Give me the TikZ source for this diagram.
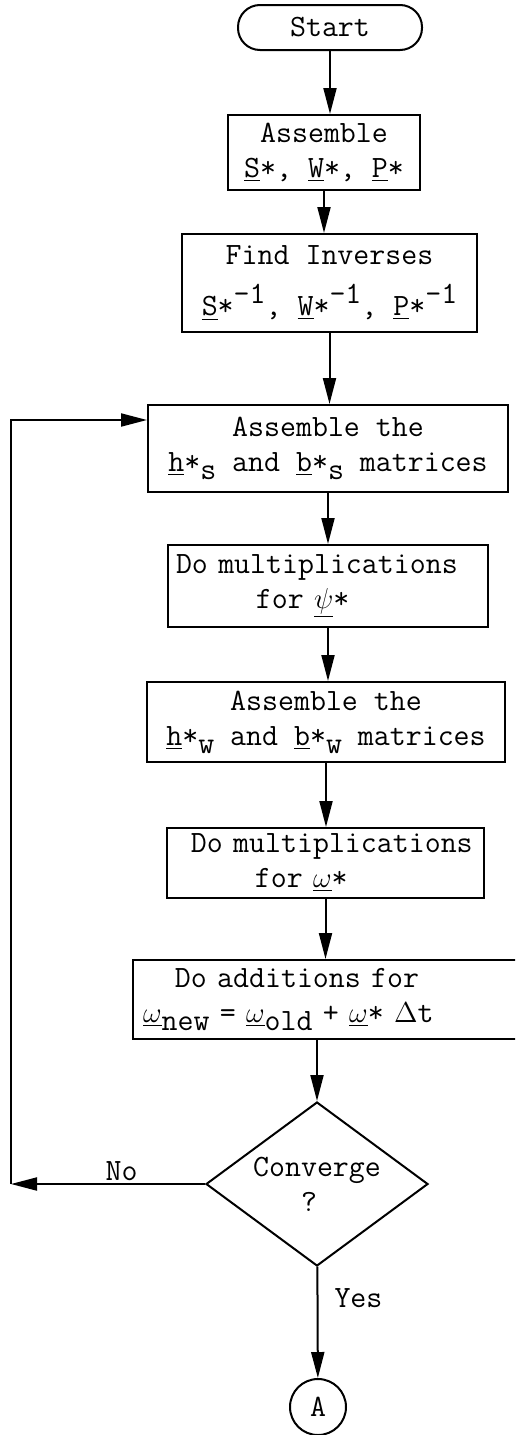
\documentclass[tikz,border=0pt]{standalone}
\usetikzlibrary{shapes.geometric,arrows.meta}
\newcommand{\upr}[1]{\raisebox{0.9ex}{#1}}
\newcommand{\dnr}[1]{\raisebox{-0.6ex}{#1}}
\begin{document}
\begin{tikzpicture}[x=0.5pt, y=-0.5pt,
    every node/.style={font=\ttfamily\fontsize{15.5}{17.5}\selectfont},
    block/.style={draw, line width=1pt, align=center, inner sep=2pt},
    terminal/.style={block, rounded corners=11pt},
    decision/.style={diamond, draw, line width=1pt, aspect=1.35, inner sep=0pt,
      minimum width=111pt, minimum height=82pt, align=left},
    connector/.style={circle, draw, line width=1pt, minimum size=28pt, inner sep=0pt},
    flow/.style={line width=1pt, -{Triangle[length=13pt,width=6.5pt]}}]
  \useasboundingbox (0,0) rectangle (515,1435);
  \clip (0,0) rectangle (515,1435);
  \node[terminal, minimum width=92pt, minimum height=22.5pt] (start) at (330,27.5) {Start};
  \node[block, minimum width=96pt, minimum height=37.5pt] (asm) at (324,152.5)
    {Assemble\\ \underline{S}*, \underline{W}*, \underline{P}*};
  \node[block, minimum width=147.5pt, minimum height=49pt] (inv) at (329.5,283)
    {Find Inverses\\[8pt] \underline{S}*\upr{-1}, \underline{W}*\upr{-1}, \underline{P}*\upr{-1}};
  \node[block, minimum width=180pt, minimum height=43.5pt] (hs) at (328,448.5)
    {Assemble the\\ \underline{h}*\dnr{s} and \underline{b}*\dnr{s} matrices};
  \node[block, align=left, text width=152pt, inner xsep=4pt, minimum height=41pt] (psi) at (328,586)
    {Do multiplications\\ \phantom{xxxxx}for \underline{$\psi$}*};
  \node[block, minimum width=179pt, minimum height=40pt] (hw) at (326,722)
    {Assemble the\\ \underline{h}*\dnr{w} and \underline{b}*\dnr{w} matrices};
  \node[block, align=left, text width=150.5pt, inner xsep=4pt, minimum height=35pt] (omg) at (325.5,863)
    {\phantom{x}Do multiplications\\ \phantom{xxxxx}for \underline{$\omega$}*};
  \node[block, align=left, text width=240pt, inner xsep=5pt, minimum height=39.5pt, anchor=north west] (add) at (132,959)
    {\phantom{xx}Do additions for\\ \underline{$\omega$}\dnr{new} = \underline{$\omega$}\dnr{old} + \underline{$\omega$}* $\Delta$t};
  \node[decision] (conv) at (317,1184) {Converge\\ \phantom{xxx}?};
  \node[connector] (a) at (318,1407) {A};
  \coordinate (back) at (11,1184);
  \coordinate (up) at (11,420);
  \draw[flow] (start) -- (start |- asm.north);
  \draw[flow] (asm) -- (asm |- inv.north);
  \draw[flow] (inv) -- (inv |- hs.north);
  \draw[flow] (hs) -- (hs |- psi.north);
  \draw[flow] (psi) -- (psi |- hw.north);
  \draw[flow] (hw) -- (hw |- omg.north);
  \draw[flow] (omg) -- (omg |- add.north);
  \draw[flow] (conv |- add.south) -- (conv);
  \draw[flow] (conv) -- node[above, pos=0.43, inner sep=1pt] {No} (back);
  \draw[flow] (back) -- (up) -- (up -| hs.west);
  \draw[flow] (conv) -- node[right=8pt, pos=0.28, inner sep=0pt] {Yes} (a);
\end{tikzpicture}
\end{document}
